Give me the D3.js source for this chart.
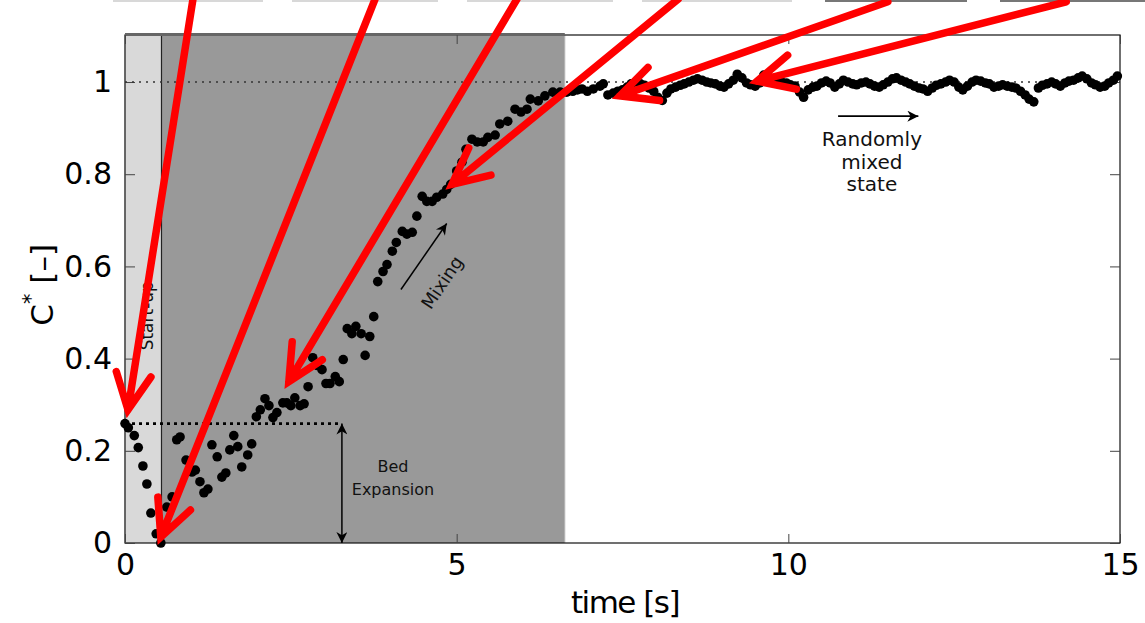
<!DOCTYPE html>
<html>
<head>
<meta charset="utf-8">
<script src="https://cdn.jsdelivr.net/npm/d3@7"></script>
<style>
  body { margin: 0; background: #ffffff; }
  svg { display: block; font-family: "DejaVu Sans", sans-serif; }
</style>
</head>
<body>
<div id="chart"></div>
<script>
// start-up phase samples [time s, C*]
const startupData = [
  [0.00, 0.259], [0.05, 0.250], [0.14, 0.233], [0.20, 0.207], [0.27, 0.167],
  [0.33, 0.128], [0.39, 0.065], [0.47, 0.020], [0.54, 0.000]
];

// mixing phase samples
const mixingData = [
  [0.63, 0.078], [0.71, 0.100], [0.78, 0.224], [0.83, 0.230], [0.92, 0.180],
  [1.01, 0.154], [1.06, 0.158], [1.13, 0.133], [1.19, 0.109], [1.25, 0.117],
  [1.31, 0.213], [1.39, 0.187], [1.46, 0.143], [1.52, 0.152], [1.58, 0.202],
  [1.64, 0.233], [1.70, 0.209], [1.76, 0.165], [1.85, 0.191], [1.91, 0.215],
  [1.98, 0.274], [2.04, 0.289], [2.11, 0.313], [2.17, 0.298], [2.23, 0.272],
  [2.29, 0.283], [2.38, 0.304], [2.44, 0.304], [2.50, 0.298], [2.56, 0.315],
  [2.64, 0.298], [2.70, 0.302], [2.76, 0.339], [2.83, 0.402], [2.90, 0.385],
  [2.97, 0.376], [3.03, 0.346], [3.09, 0.346], [3.17, 0.361], [3.23, 0.350],
  [3.29, 0.398], [3.35, 0.465], [3.42, 0.454], [3.48, 0.470], [3.56, 0.454],
  [3.62, 0.407], [3.69, 0.448], [3.75, 0.491], [3.81, 0.567], [3.89, 0.589],
  [3.95, 0.604], [4.03, 0.633], [4.09, 0.652], [4.18, 0.676], [4.25, 0.670],
  [4.33, 0.674], [4.40, 0.709], [4.48, 0.752], [4.55, 0.741], [4.63, 0.741],
  [4.70, 0.750], [4.79, 0.757], [4.85, 0.767], [4.91, 0.778], [5.00, 0.807],
  [5.08, 0.826], [5.14, 0.854], [5.23, 0.876], [5.31, 0.870], [5.40, 0.870],
  [5.47, 0.880], [5.58, 0.885], [5.65, 0.909], [5.77, 0.915], [5.88, 0.941],
  [5.97, 0.935], [6.06, 0.941], [6.11, 0.963], [6.23, 0.959], [6.33, 0.970],
  [6.45, 0.978], [6.56, 0.978]
];

// randomly mixed state samples
const mixedData = [
  [6.66, 0.978], [6.75, 0.980], [6.82, 0.983], [6.89, 0.985], [6.97, 0.980],
  [7.06, 0.985], [7.16, 0.991], [7.21, 0.996], [7.28, 0.972], [7.36, 0.976],
  [7.43, 0.980], [7.50, 0.983], [7.57, 0.989], [7.63, 0.996], [7.70, 1.000],
  [7.77, 0.996], [7.83, 0.993], [7.90, 0.987], [7.97, 0.980], [8.03, 0.967],
  [8.10, 0.960], [8.17, 0.976], [8.23, 0.985], [8.30, 0.989], [8.37, 0.993],
  [8.43, 0.996], [8.50, 1.000], [8.57, 1.004], [8.63, 1.007], [8.70, 1.004],
  [8.77, 1.000], [8.83, 0.998], [8.90, 0.996], [8.97, 0.991], [9.03, 0.989],
  [9.10, 0.996], [9.17, 1.004], [9.23, 1.017], [9.30, 1.009], [9.37, 0.998],
  [9.43, 0.994], [9.50, 0.991], [9.57, 0.998], [9.63, 1.015], [9.70, 1.007],
  [9.77, 1.004], [9.83, 1.002], [9.90, 1.000], [9.97, 0.998], [10.03, 0.994],
  [10.10, 0.991], [10.17, 0.978], [10.23, 0.967], [10.30, 0.983], [10.37, 0.989],
  [10.43, 0.991], [10.50, 0.998], [10.57, 1.002], [10.63, 0.998], [10.70, 0.989],
  [10.77, 0.996], [10.83, 1.004], [10.90, 1.000], [10.97, 0.996], [11.03, 0.994],
  [11.10, 0.998], [11.17, 1.000], [11.23, 0.996], [11.30, 0.991], [11.37, 0.989],
  [11.43, 0.994], [11.50, 1.000], [11.57, 1.007], [11.63, 1.009], [11.70, 1.004],
  [11.77, 1.000], [11.83, 0.996], [11.90, 0.991], [11.97, 0.987], [12.03, 0.985],
  [12.10, 0.980], [12.17, 0.987], [12.23, 0.993], [12.30, 0.996], [12.37, 1.000],
  [12.43, 1.004], [12.50, 1.000], [12.57, 0.989], [12.63, 0.983], [12.70, 0.991],
  [12.77, 1.000], [12.83, 1.004], [12.90, 1.002], [12.97, 0.998], [13.03, 0.996],
  [13.10, 0.989], [13.17, 0.991], [13.23, 0.994], [13.30, 0.991], [13.37, 0.989],
  [13.43, 0.987], [13.50, 0.980], [13.57, 0.972], [13.63, 0.963], [13.70, 0.957],
  [13.77, 0.987], [13.83, 0.993], [13.90, 0.996], [13.97, 1.000], [14.03, 0.996],
  [14.10, 0.991], [14.17, 0.998], [14.23, 1.002], [14.30, 1.004], [14.37, 1.009],
  [14.43, 1.013], [14.50, 1.007], [14.57, 0.998], [14.63, 0.994], [14.70, 0.989],
  [14.77, 0.991], [14.83, 0.998], [14.90, 1.004], [14.96, 1.013]
];

const xTicks = [0, 5, 10, 15];
const yTicks = [0, 0.2, 0.4, 0.6, 0.8, 1];
const yTickLabels = ["0", "0.2", "0.4", "0.6", "0.8", "1"];

const startupEnd = 0.55;
const mixingEnd = 6.63;
const bedLevel = 0.259;
const bedArrowTime = 3.27;

// red pointer arrows, [time, C*] from -> to
const pointerArrows = [
  { from: [1.025, 1.18], to: [0.045, 0.289] },
  { from: [3.77, 1.18], to: [0.54, 0.013] },
  { from: [5.91, 1.18], to: [2.47, 0.35] },
  { from: [8.34, 1.18], to: [4.93, 0.778] },
  { from: [11.50, 1.174], to: [7.46, 0.970] },
  { from: [14.19, 1.174], to: [9.53, 1.002] }
];

const margin = { top: 35, right: 25, bottom: 80, left: 125 };
const width = 1145;
const height = 623;
const innerWidth = width - margin.left - margin.right;
const innerHeight = height - margin.top - margin.bottom;

const svg = d3.select("#chart")
  .append("svg")
  .attr("width", width)
  .attr("height", height);

// cut-off strip at the very top of the picture
const topStrips = [[113, 263, "#d8d8d8"], [292, 438, "#d8d8d8"], [467, 613, "#d8d8d8"],
  [642, 792, "#d8d8d8"], [825, 967, "#777"], [1000, 1145, "#777"]];
svg.selectAll("rect.top-strip")
  .data(topStrips)
  .enter()
  .append("rect")
  .attr("class", "top-strip")
  .attr("x", (d) => d[0])
  .attr("y", 0)
  .attr("width", (d) => d[1] - d[0])
  .attr("height", 2)
  .attr("fill", (d) => d[2]);

const chart = svg.append("g")
  .attr("transform", `translate(${margin.left},${margin.top})`);

const x = d3.scaleLinear().domain([0, 15]).range([0, innerWidth]);
const y = d3.scaleLinear().domain([0, 1.102]).range([innerHeight, 0]);

// phase shading
chart.append("rect")
  .attr("x", x(0))
  .attr("y", 0)
  .attr("width", x(startupEnd) - x(0))
  .attr("height", innerHeight)
  .attr("fill", "#d9d9d9");

chart.append("rect")
  .attr("x", x(startupEnd))
  .attr("y", 0)
  .attr("width", x(mixingEnd) - x(startupEnd))
  .attr("height", innerHeight)
  .attr("fill", "#999999");

chart.append("line")
  .attr("x1", x(startupEnd)).attr("x2", x(startupEnd))
  .attr("y1", 0).attr("y2", innerHeight)
  .attr("stroke", "#222").attr("stroke-width", 1.2);

chart.append("line")
  .attr("x1", x(mixingEnd)).attr("x2", x(mixingEnd))
  .attr("y1", 0).attr("y2", innerHeight)
  .attr("stroke", "#b5b5b5").attr("stroke-width", 1);

// frame
chart.append("rect")
  .attr("x", 0).attr("y", 0)
  .attr("width", innerWidth).attr("height", innerHeight)
  .attr("fill", "none")
  .attr("stroke", "#111")
  .attr("stroke-width", 1.2);

chart.append("line")
  .attr("x1", 0).attr("x2", x(mixingEnd))
  .attr("y1", -0.5).attr("y2", -0.5)
  .attr("stroke", "#666").attr("stroke-width", 3);

chart.append("line")
  .attr("x1", 0).attr("x2", 0)
  .attr("y1", 0).attr("y2", innerHeight)
  .attr("stroke", "#666").attr("stroke-width", 1.5);

// axes with inward ticks
chart.append("g")
  .attr("transform", `translate(0,${innerHeight})`)
  .call(d3.axisBottom(x).tickValues(xTicks).tickSize(-9).tickPadding(11).tickFormat(d3.format("d")))
  .call((g) => g.select(".domain").remove())
  .call((g) => g.selectAll("line").attr("stroke", "#444"))
  .call((g) => g.selectAll("text").attr("font-size", 30).attr("fill", "#000").attr("font-family", "DejaVu Sans"));

chart.append("g")
  .call(d3.axisTop(x).tickValues(xTicks).tickSize(-9).tickFormat(""))
  .call((g) => g.select(".domain").remove())
  .call((g) => g.selectAll("line").attr("stroke", "#444"));

chart.append("g")
  .call(d3.axisLeft(y).tickValues(yTicks).tickSize(-10).tickPadding(13)
    .tickFormat((d, i) => yTickLabels[i]))
  .call((g) => g.select(".domain").remove())
  .call((g) => g.selectAll("line").attr("stroke", "#444"))
  .call((g) => g.selectAll("text").attr("font-size", 30).attr("fill", "#000").attr("font-family", "DejaVu Sans"));

chart.append("g")
  .attr("transform", `translate(${innerWidth},0)`)
  .call(d3.axisRight(y).tickValues(yTicks).tickSize(-10).tickFormat(""))
  .call((g) => g.select(".domain").remove())
  .call((g) => g.selectAll("line").attr("stroke", "#444"));

// axis titles
chart.append("text")
  .attr("x", 500)
  .attr("y", innerHeight + 70)
  .attr("text-anchor", "middle")
  .attr("font-size", 31)
  .attr("letter-spacing", -1.5)
  .attr("fill", "#000")
  .text("time [s]");

const yTitle = chart.append("text")
  .attr("transform", `translate(${-72},${y(0.56)}) rotate(-90)`)
  .attr("text-anchor", "middle")
  .attr("font-size", 31)
  .attr("fill", "#000");
yTitle.append("tspan").text("C");
yTitle.append("tspan").attr("dy", -15).attr("font-size", 21).text("*");
yTitle.append("tspan").attr("dy", 15).text(" [–]");

// reference lines
chart.append("line")
  .attr("x1", x(0)).attr("x2", x(15))
  .attr("y1", y(1)).attr("y2", y(1))
  .attr("stroke", "#333")
  .attr("stroke-width", 1.6)
  .attr("stroke-dasharray", "2,5");

chart.append("line")
  .attr("x1", x(0)).attr("x2", x(bedArrowTime))
  .attr("y1", y(bedLevel)).attr("y2", y(bedLevel))
  .attr("stroke", "#000")
  .attr("stroke-width", 2.6)
  .attr("stroke-dasharray", "3,4");

// arrow marker
const defs = svg.append("defs");
defs.append("marker")
  .attr("id", "head")
  .attr("viewBox", "0 0 10 10")
  .attr("refX", 10).attr("refY", 5)
  .attr("markerWidth", 24).attr("markerHeight", 11)
  .attr("markerUnits", "userSpaceOnUse")
  .attr("orient", "auto-start-reverse")
  .append("path")
  .attr("d", "M0,0 L10,5 L0,10 L3,5 Z")
  .attr("fill", "#000");

chart.append("line")
  .attr("x1", x(bedArrowTime)).attr("x2", x(bedArrowTime))
  .attr("y1", y(bedLevel)).attr("y2", y(0))
  .attr("stroke", "#000").attr("stroke-width", 1.5)
  .attr("marker-start", "url(#head)")
  .attr("marker-end", "url(#head)");

chart.append("text")
  .attr("x", x(4.04)).attr("y", y(0.155))
  .attr("text-anchor", "middle").attr("font-size", 16).attr("fill", "#111")
  .text("Bed");
chart.append("text")
  .attr("x", x(4.04)).attr("y", y(0.105))
  .attr("text-anchor", "middle").attr("font-size", 16).attr("fill", "#111")
  .text("Expansion");

chart.append("line")
  .attr("x1", x(4.16)).attr("y1", y(0.55))
  .attr("x2", x(4.85)).attr("y2", y(0.693))
  .attr("stroke", "#000").attr("stroke-width", 1.5)
  .attr("marker-end", "url(#head)");

chart.append("text")
  .attr("transform", `translate(${x(4.78)},${y(0.565)}) rotate(-56)`)
  .attr("text-anchor", "middle").attr("dy", "0.35em")
  .attr("font-size", 18).attr("fill", "#111")
  .text("Mixing");

chart.append("text")
  .attr("transform", `translate(${x(0.33)},${y(0.493)}) rotate(-90)`)
  .attr("text-anchor", "middle").attr("dy", "0.35em")
  .attr("font-size", 17).attr("fill", "#111")
  .text("Start-up");

chart.append("line")
  .attr("x1", x(10.75)).attr("y1", y(0.926))
  .attr("x2", x(11.96)).attr("y2", y(0.926))
  .attr("stroke", "#000").attr("stroke-width", 1.6)
  .attr("marker-end", "url(#head)");

["Randomly", "mixed", "state"].forEach((line, i) => {
  chart.append("text")
    .attr("x", x(11.26))
    .attr("y", y(0.861) + i * 22.5)
    .attr("text-anchor", "middle")
    .attr("font-size", 20)
    .attr("fill", "#111")
    .text(line);
});

// measured concentration
const allPoints = startupData.concat(mixingData, mixedData);
chart.selectAll("circle.sample")
  .data(allPoints)
  .enter()
  .append("circle")
  .attr("class", "sample")
  .attr("cx", (d) => x(d[0]))
  .attr("cy", (d) => y(d[1]))
  .attr("r", 4.8)
  .attr("fill", "#000");

// red pointer arrows on top
const headLength = 40;
const headAngle = 26 * Math.PI / 180;
pointerArrows.forEach((arrow) => {
  const x1 = x(arrow.from[0]);
  const y1 = y(arrow.from[1]);
  const x2 = x(arrow.to[0]);
  const y2 = y(arrow.to[1]);
  const back = Math.atan2(y1 - y2, x1 - x2);
  const a1 = [x2 + headLength * Math.cos(back + headAngle), y2 + headLength * Math.sin(back + headAngle)];
  const a2 = [x2 + headLength * Math.cos(back - headAngle), y2 + headLength * Math.sin(back - headAngle)];

  chart.append("path")
    .attr("d", `M${x1},${y1} L${x2},${y2} M${a1[0]},${a1[1]} L${x2},${y2} L${a2[0]},${a2[1]}`)
    .attr("fill", "none")
    .attr("stroke", "#ff0000")
    .attr("stroke-width", 7.5)
    .attr("stroke-linecap", "round")
    .attr("stroke-linejoin", "miter");
});
</script>
</body>
</html>
